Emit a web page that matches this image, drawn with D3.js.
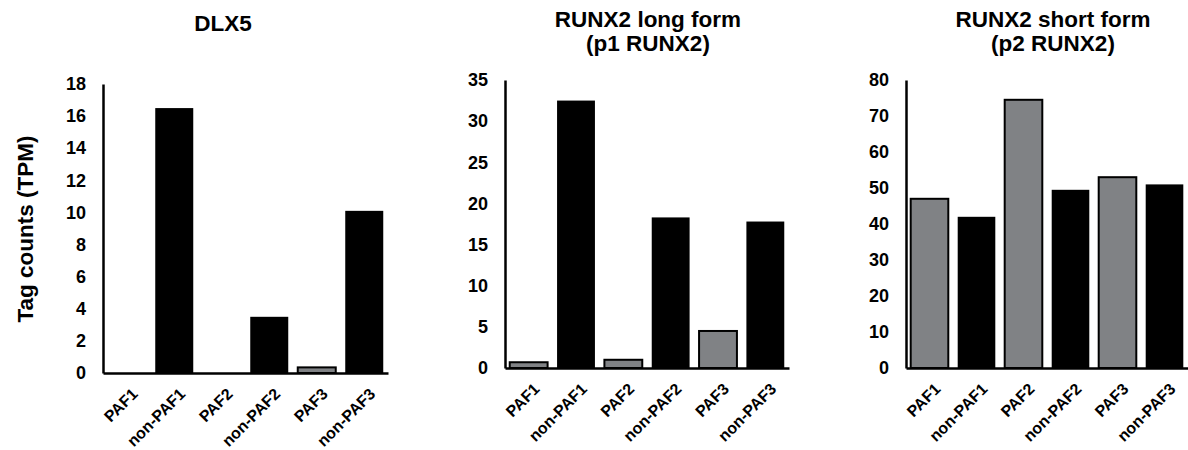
<!DOCTYPE html>
<html>
<head>
<meta charset="utf-8">
<script src="https://cdn.jsdelivr.net/npm/d3@7"></script>
<style>
  body { margin: 0; background: #fff; }
  text { font-family: "Liberation Sans", Arial, sans-serif; font-weight: bold; fill: #000; }
</style>
</head>
<body>
<svg id="chart" width="1188" height="450"></svg>
<script>
const categories = ['PAF1', 'non-PAF1', 'PAF2', 'non-PAF2', 'PAF3', 'non-PAF3']
const dlx5Values = [0, 16.5, 0, 3.5, 0.35, 10.1]
const runx2LongValues = [0.7, 32.5, 1.0, 18.3, 4.5, 17.8]
const runx2ShortValues = [47, 42, 74.5, 49.5, 53, 51]
const dlx5Ticks = [0, 2, 4, 6, 8, 10, 12, 14, 16, 18]
const runx2LongTicks = [0, 5, 10, 15, 20, 25, 30, 35]
const runx2ShortTicks = [0, 10, 20, 30, 40, 50, 60, 70, 80]

const panels = [
  { title: ['DLX5'], titleX: 223, values: dlx5Values, ticks: dlx5Ticks, x0: 103, x1: 388, y0: 373, y1: 84 },
  { title: ['RUNX2 long form', '(p1 RUNX2)'], titleX: 648, values: runx2LongValues, ticks: runx2LongTicks, x0: 505, x1: 789, y0: 368, y1: 80 },
  { title: ['RUNX2 short form', '(p2 RUNX2)'], titleX: 1053, values: runx2ShortValues, ticks: runx2ShortTicks, x0: 906, x1: 1188, y0: 368, y1: 80 }
]

const svg = d3.select('#chart')

panels.forEach(p => {
  const g = svg.append('g')
  const x = d3.scaleBand().domain(categories).range([p.x0, p.x1]).paddingInner(0.2).paddingOuter(0.1)
  const y = d3.scaleLinear().domain([0, d3.max(p.ticks)]).range([p.y0, p.y1])

  // bars (PAF = gray with outline, non-PAF = black)
  g.selectAll('rect')
    .data(categories.map((c, i) => ({ c, v: p.values[i] })))
    .enter().append('rect')
    .attr('x', d => x(d.c))
    .attr('width', x.bandwidth())
    .attr('y', d => y(d.v))
    .attr('height', d => y(0) - y(d.v))
    .attr('fill', d => d.c.startsWith('non') ? '#000' : '#808285')
    .attr('stroke', '#000')
    .attr('stroke-width', d => d.c.startsWith('non') ? 0 : 2)

  // y axis
  const yAxis = g.append('g')
    .attr('transform', `translate(${p.x0},0)`)
    .call(d3.axisLeft(y).tickValues(p.ticks).tickSize(0).tickPadding(17))
  yAxis.select('.domain').attr('stroke', '#000').attr('stroke-width', 2.5)
  yAxis.selectAll('text').style('font-size', '18px')

  // x axis
  const xAxis = g.append('g')
    .attr('transform', `translate(0,${p.y0})`)
    .call(d3.axisBottom(x).tickSize(0).tickPadding(0))
  xAxis.select('.domain').attr('stroke', '#000').attr('stroke-width', 2.5)
  xAxis.selectAll('text')
    .style('font-size', '16px')
    .attr('text-anchor', 'end')
    .attr('dy', 0)
    .attr('y', 0)
    .attr('transform', 'translate(12,22) rotate(-45)')

  // title
  const t = g.append('text')
    .attr('text-anchor', 'middle')
    .style('font-size', '22.5px')
  p.title.forEach((line, i) => {
    t.append('tspan')
      .attr('x', p.titleX)
      .attr('y', (p.title.length === 1 ? 31 : 27) + i * 24)
      .text(line)
  })
})

svg.append('text')
  .attr('transform', 'translate(33,229) rotate(-90)')
  .attr('text-anchor', 'middle')
  .style('font-size', '22.5px')
  .text('Tag counts (TPM)')
</script>
</body>
</html>
